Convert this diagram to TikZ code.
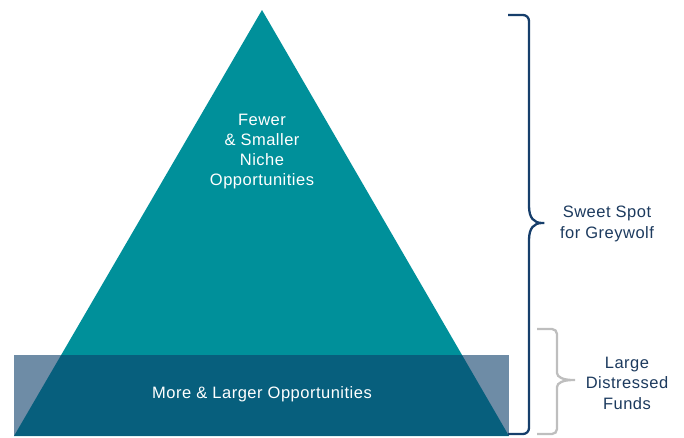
\documentclass[tikz,border=0pt]{standalone}
\usepackage{fontspec}
\setmainfont{Liberation Sans}
\newfontfamily\pyrfont[LetterSpace=3]{Liberation Sans}
\usepackage{xcolor}
\definecolor{pyrteal}{RGB}{0,144,154}
\definecolor{baseblue}{RGB}{13,63,107}
\definecolor{navybrace}{RGB}{22,62,107}
\definecolor{greybrace}{RGB}{190,190,190}
\definecolor{labelnavy}{RGB}{28,58,94}

\begin{document}
\begin{tikzpicture}[x=1pt, y=-1pt]
        \useasboundingbox (0,0) rectangle (684,437);
        \fill[pyrteal] (262,10) -- (509,436) -- (14,436) -- cycle;
        \fill[baseblue, opacity=0.6] (14,355) rectangle (509,436);
        \node[white, font=\pyrfont\fontsize{16.5}{20}\selectfont, align=center] (top) at (262,152) {Fewer\\ \& Smaller\\ Niche\\ Opportunities};
        \node[white, font=\pyrfont\fontsize{16.5}{20}\selectfont] (base) at (262,394) {More \& Larger Opportunities};
        % sweet spot brace
        \draw[navybrace, line width=2.3pt, rounded corners=6pt] (508,15) -- (529,15) -- (529,200)
            .. controls (529,218) and (534,223) .. (548,223)
            .. controls (534,223) and (529,228) .. (529,246) -- (529,434) -- (508,434);
        % distressed funds brace
        \draw[greybrace, line width=2.3pt, rounded corners=5pt] (537,329) -- (557,329) -- (557,368)
            .. controls (557,377) and (563,380) .. (578,380)
            .. controls (563,380) and (557,383) .. (557,392) -- (557,434) -- (537,434);
        \node[labelnavy, font=\pyrfont\fontsize{16.5}{20.5}\selectfont, align=center] (sweet) at (607,224) {Sweet Spot\\ for Greywolf};
        \node[labelnavy, font=\pyrfont\fontsize{16.5}{20.5}\selectfont, align=center] (large) at (627,383) {Large\\ Distressed\\ Funds};
    \end{tikzpicture}
\end{document}
